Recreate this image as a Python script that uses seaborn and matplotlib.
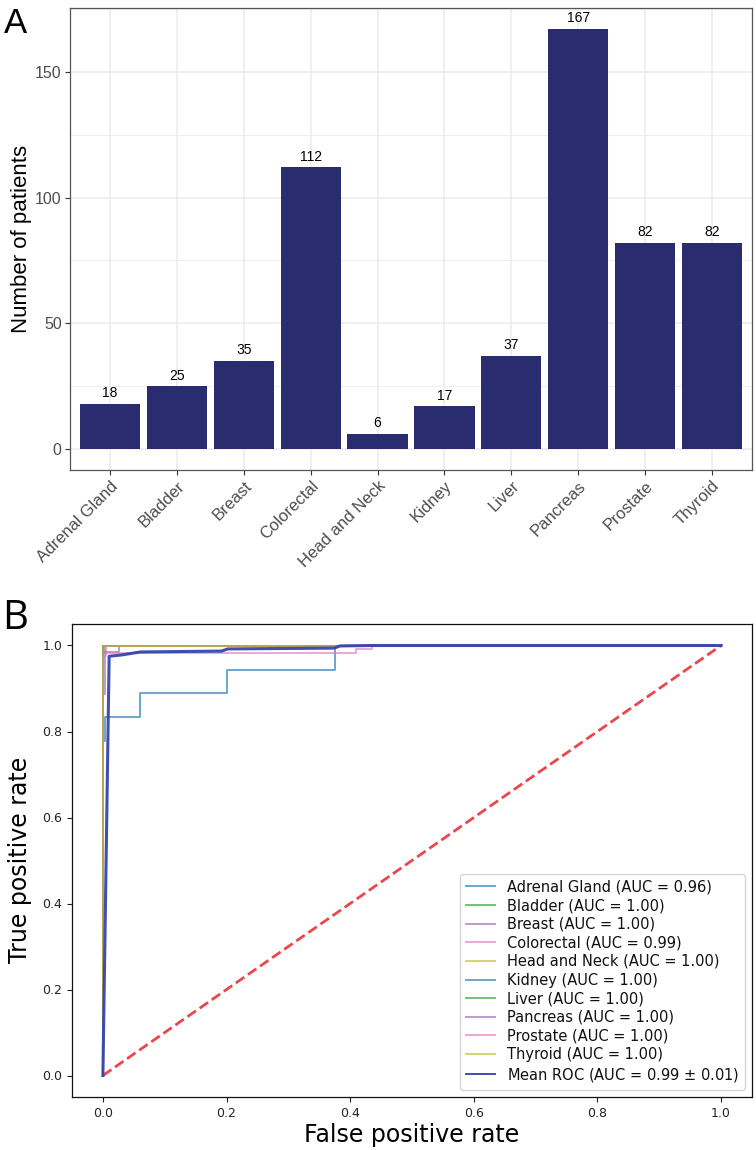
import matplotlib
matplotlib.use("Agg")
import matplotlib.pyplot as plt
import seaborn as sns
from matplotlib.ticker import MultipleLocator, FixedLocator

# ---------------- data ----------------
cancer_types = ["Adrenal Gland", "Bladder", "Breast", "Colorectal", "Head and Neck",
                "Kidney", "Liver", "Pancreas", "Prostate", "Thyroid"]
patient_counts = [18, 25, 35, 112, 6, 17, 37, 167, 82, 82]

auc_values = [0.96, 1.00, 1.00, 0.99, 1.00, 1.00, 1.00, 1.00, 1.00, 1.00]
mean_auc = 0.99
std_auc = 0.01

adrenal_fpr = [0, 0, 0.003, 0.003, 0.06, 0.06, 0.2, 0.2, 0.375, 0.375, 1]
adrenal_tpr = [0, 0.778, 0.778, 0.833, 0.833, 0.889, 0.889, 0.944, 0.944, 1, 1]
bladder_fpr = [0, 0, 1]
bladder_tpr = [0, 1, 1]
breast_fpr = [0, 0, 0.026, 0.026, 1]
breast_tpr = [0, 0.985, 0.985, 1, 1]
colorectal_fpr = [0, 0, 0.41, 0.41, 0.435, 0.435, 1]
colorectal_tpr = [0, 0.982, 0.982, 0.991, 0.991, 1, 1]
headneck_fpr = [0, 0, 1]
headneck_tpr = [0, 1, 1]
kidney_fpr = [0, 0, 1]
kidney_tpr = [0, 1, 1]
liver_fpr = [0, 0, 1]
liver_tpr = [0, 1, 1]
pancreas_fpr = [0, 0, 0.004, 0.004, 1]
pancreas_tpr = [0, 0.888, 0.888, 1, 1]
prostate_fpr = [0, 0, 0.005, 0.005, 1]
prostate_tpr = [0, 0.976, 0.976, 1, 1]
thyroid_fpr = [0, 0, 1]
thyroid_tpr = [0, 1, 1]

mean_fpr = [0, 0.0101, 0.0303, 0.0606, 0.1919, 0.2020, 0.3737, 0.3838, 0.4343, 1.0]
mean_tpr = [0, 0.975, 0.978, 0.985, 0.987, 0.992, 0.994, 0.999, 1.0, 1.0]

roc_fprs = [adrenal_fpr, bladder_fpr, breast_fpr, colorectal_fpr, headneck_fpr,
            kidney_fpr, liver_fpr, pancreas_fpr, prostate_fpr, thyroid_fpr]
roc_tprs = [adrenal_tpr, bladder_tpr, breast_tpr, colorectal_tpr, headneck_tpr,
            kidney_tpr, liver_tpr, pancreas_tpr, prostate_tpr, thyroid_tpr]

# ---------------- figure ----------------
W, H = 756, 1150
fig = plt.figure(figsize=(W / 100, H / 100), dpi=100)

def fig_rect(l, t, r, b):
    return [l / W, 1 - b / H, (r - l) / W, (b - t) / H]

# ---------- Panel A ----------
axA = fig.add_axes(fig_rect(70, 8, 752, 470))
GG_FONT = "Liberation Sans"
bar_color = "#292C6E"
sns.barplot(x=cancer_types, y=patient_counts, color=bar_color, saturation=1,
            width=0.9, linewidth=0, ax=axA, zorder=3)
axA.set_xlim(-0.6, 9.6)
axA.set_ylim(-8.35, 175.35)
axA.yaxis.set_major_locator(FixedLocator([0, 50, 100, 150]))
axA.yaxis.set_minor_locator(FixedLocator([25, 75, 125, 175]))
axA.set_axisbelow(True)
axA.grid(True, which="major", color="#EBEBEB", lw=1.1, zorder=0)
axA.grid(True, which="minor", axis="y", color="#EBEBEB", lw=0.55, zorder=0)
for s in axA.spines.values():
    s.set_color("#555555")
    s.set_linewidth(0.9)
axA.tick_params(axis="both", which="major", length=3.5, width=0.8, color="#333333",
                labelcolor="#4D4D4D", labelsize=11.5, pad=2.5)
axA.tick_params(axis="y", which="minor", length=0)
for lab in axA.get_yticklabels():
    lab.set_fontfamily(GG_FONT)
axA.set_xticks(range(len(cancer_types)))
axA.set_xticklabels(cancer_types, rotation=45, ha="right", va="top",
                    rotation_mode="anchor", fontfamily=GG_FONT, fontsize=12,
                    color="#4D4D4D")
axA.set_xlabel("")
axA.set_ylabel("")
for i, v in enumerate(patient_counts):
    axA.text(i, v + 1.4, str(v), ha="center", va="bottom", fontsize=10,
             fontfamily=GG_FONT, color="black", zorder=4)
fig.text(22 / W, 1 - 239 / H, "Number of patients", rotation=90, ha="center",
         va="center", fontsize=16, fontfamily=GG_FONT)
fig.text(4 / W, 1 - 33 / H, "A", fontsize=25, fontfamily=GG_FONT, va="baseline",
         ha="left")

# ---------- Panel B ----------
axB = fig.add_axes(fig_rect(72, 624, 752, 1097))
cols = ["C0", "C2", "C4", "C6", "C8"]
for i, name in enumerate(cancer_types):
    sns.lineplot(x=roc_fprs[i], y=roc_tprs[i], estimator=None, sort=False,
                 color=cols[i % 5], alpha=0.65, lw=1.4,
                 label=f"{name} (AUC = {auc_values[i]:.2f})", ax=axB)
sns.lineplot(x=[0, 1], y=[0, 1], estimator=None, sort=False, color="#E8272B",
             alpha=0.85, lw=2, linestyle="--", ax=axB)
axB.lines[-1].set_linestyle((0, (3.7, 1.6)))
sns.lineplot(x=mean_fpr, y=mean_tpr, estimator=None, sort=False, color="#3446AA",
             lw=2.2, alpha=0.95,
             label=f"Mean ROC (AUC = {mean_auc:.2f} $\\pm$ {std_auc:.2f})", ax=axB)
axB.set_xlim(-0.05, 1.05)
axB.set_ylim(-0.05, 1.05)
axB.xaxis.set_major_locator(MultipleLocator(0.2))
axB.yaxis.set_major_locator(MultipleLocator(0.2))
axB.tick_params(labelsize=9, length=3.5, width=0.8, color="#222222",
                labelcolor="#222222")
for s in axB.spines.values():
    s.set_color("#111111")
    s.set_linewidth(0.9)
axB.set_xlabel("")
axB.set_ylabel("")
leg = axB.legend(loc="lower right", fontsize=10.5, labelspacing=0.25,
                 handlelength=2.0, frameon=True)
for t in leg.get_texts():
    t.set_color("#111111")
for h in leg.get_lines():
    h.set_linewidth(1.4)
fig.text(412 / W, 1 - 1135 / H, "False positive rate", ha="center", va="center",
         fontsize=17)
fig.text(20 / W, 1 - 860 / H, "True positive rate", ha="center", va="center",
         rotation=90, fontsize=17)
fig.text(2 / W, 1 - 629 / H, "B", fontsize=29, fontfamily="Open Sans",
         va="baseline", ha="left")

fig.savefig("out.png", dpi=100)
